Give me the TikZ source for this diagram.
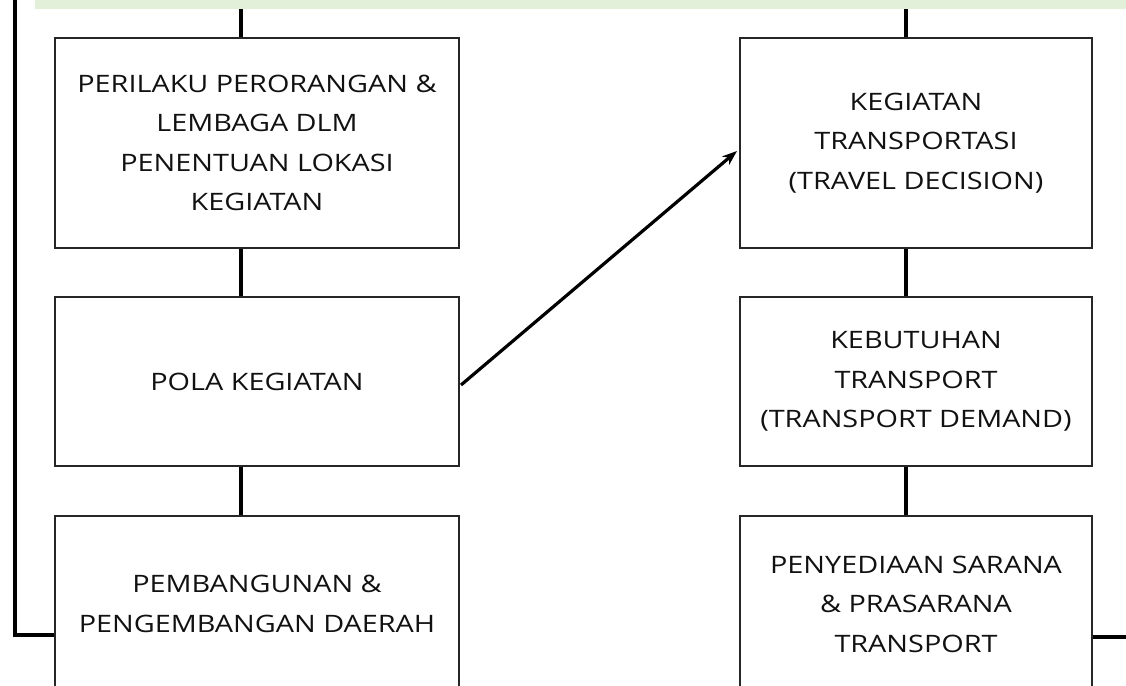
\documentclass[tikz,border=0pt]{standalone}
\usepackage{fontspec}
\setmainfont[FakeStretch=1.2]{Open Sans}
\usetikzlibrary{arrows.meta,calc}
\definecolor{bandgreen}{HTML}{E2EFD9}
\definecolor{txt}{HTML}{111111}
\tikzset{
  box/.style={draw=black!85, line width=1.6pt, rectangle, align=center, inner sep=0pt,
    text=txt, font=\fontsize{24}{39.5}\selectfont},
  leftbox/.style={box, minimum width=404pt},
  rightbox/.style={box, minimum width=352pt},
  link/.style={line width=4.8pt, black},
  frameline/.style={line width=3.5pt, black},
  flow/.style={line width=3.2pt, black, -{Stealth[length=15pt,width=11pt]}}
}
\begin{document}
\begin{tikzpicture}[x=1pt,y=-1pt]
\useasboundingbox (0,0) rectangle (1126,685);
\clip (0,0) rectangle (1126,685);
% top band
\node[fill=bandgreen, draw=none, minimum width=1091pt, minimum height=9pt, inner sep=0pt, anchor=north west] (band) at (35,0) {};
% left column
\node[leftbox, minimum height=210pt] (l1) at (257,143) {PERILAKU PERORANGAN \&\\LEMBAGA DLM\\PENENTUAN LOKASI\\KEGIATAN};
\node[leftbox, minimum height=169pt] (l2) at (257,381.5) {POLA KEGIATAN};
\node[leftbox, minimum height=176pt] (l3) at (257,604) {PEMBANGUNAN \&\\PENGEMBANGAN DAERAH};
% right column
\node[rightbox, minimum height=210pt] (r1) at (916,143) {KEGIATAN\\TRANSPORTASI\\(TRAVEL DECISION)};
\node[rightbox, minimum height=169pt] (r2) at (916,381.5) {KEBUTUHAN\\TRANSPORT\\(TRANSPORT DEMAND)};
\node[rightbox, minimum height=176pt] (r3) at (916,604) {PENYEDIAAN SARANA\\\& PRASARANA\\TRANSPORT};
% vertical links
\draw[link] (band.south -| 241,0) -- (l1.north -| 241,0);
\draw[link] (l1.south -| 241,0) -- (l2.north -| 241,0);
\draw[link] (l2.south -| 241,0) -- (l3.north -| 241,0);
\draw[link] (band.south -| 906,0) -- (r1.north -| 906,0);
\draw[link] (r1.south -| 906,0) -- (r2.north -| 906,0);
\draw[link] (r2.south -| 906,0) -- (r3.north -| 906,0);
% outer frame lines
\coordinate (ltop) at (15,0);
\coordinate (lcorner) at (15,635);
\coordinate (rend) at (1126,637);
\draw[frameline] (ltop) -- (lcorner) -- (lcorner -| l3.west);
\draw[frameline] (rend -| r3.east) -- (rend);
% arrow
\coordinate (astart) at (461,385);
\coordinate (aend) at (737,151);
\draw[flow] (astart) -- (aend);
\end{tikzpicture}
\end{document}
